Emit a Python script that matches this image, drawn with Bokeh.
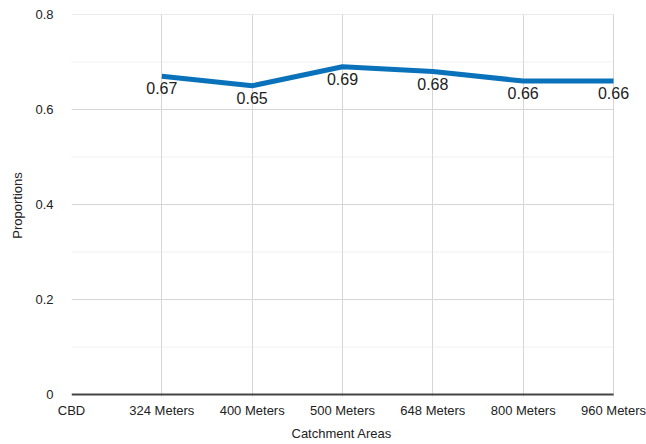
import numpy as np
from bokeh.plotting import figure
from bokeh.models import ColumnDataSource, FixedTicker, Range1d, CustomJSTickFormatter, Title
from bokeh.core.properties import value
from bokeh.embed import file_html
from bokeh.resources import INLINE

# Catchment areas and the proportion recorded for each (no value for the CBD)
categories = ["CBD", "324 Meters", "400 Meters", "500 Meters", "648 Meters", "800 Meters", "960 Meters"]
proportions = [np.nan, 0.67, 0.65, 0.69, 0.68, 0.66, 0.66]
y_ticks = [0, 0.2, 0.4, 0.6, 0.8]
y_minor = [0.1, 0.3, 0.5, 0.7]

FONT = "Liberation Sans"
GRID = "#d6d6d6"

xs = list(range(len(categories)))
x_first, x_last = xs[0], xs[-1]
src = ColumnDataSource(dict(x=xs, y=proportions))
has_val = [i for i, v in enumerate(proportions) if not np.isnan(v)]
lbl = ColumnDataSource(dict(
    x=[xs[i] for i in has_val],
    y=[proportions[i] for i in has_val],
    t=[f"{proportions[i]:.2f}" for i in has_val],
))

# The frame runs a little past the last category so the last value label has room,
# and a hair below zero so the base line is not clipped; rules and the base line
# are drawn only across the category span.
p = figure(width=646, height=444, output_backend="svg", toolbar_location=None,
           x_range=Range1d(x_first, x_last + 0.365), y_range=Range1d(-0.004, 0.8),
           min_border_left=71, min_border_right=0, min_border_top=14, min_border_bottom=20)

# horizontal rules: solid at major ticks, dotted at minor ticks
p.segment(x0=x_first, x1=x_last, y0="y", y1="y", source=ColumnDataSource(dict(y=y_ticks[1:])),
          line_color=GRID, line_width=1)
p.segment(x0=x_first, x1=x_last, y0="y", y1="y", source=ColumnDataSource(dict(y=y_minor)),
          line_color="#e2e2e2", line_width=1, line_dash="1 1")
# base line at zero
p.segment(x0=x_first, x1=x_last, y0=y_ticks[0], y1=y_ticks[0], line_color="#444444", line_width=2)

p.line("x", "y", source=src, line_width=5, line_color="#0a72bb")
p.text("x", "y", text="t", source=lbl, text_align="center", text_baseline="top",
       y_offset=6, text_font=value(FONT), text_font_size="16px", text_color="#222222")

# x axis: one tick per catchment area
p.xaxis.ticker = FixedTicker(ticks=xs)
p.xaxis.major_label_overrides = {i: c for i, c in enumerate(categories)}
p.xaxis.axis_line_color = None
p.xaxis.major_label_standoff = 6

# x axis title, placed under the middle of the category span
p.add_layout(Title(text="Catchment Areas", align="left", offset=220,
                   text_font=FONT, text_font_size="13px", text_font_style="normal",
                   text_color="#222222", standoff=7), "below")

# y axis
p.yaxis.ticker = FixedTicker(ticks=y_ticks, minor_ticks=y_minor)
p.yaxis.formatter = CustomJSTickFormatter(code="return tick == 0 ? '0' : tick.toFixed(1);")
p.yaxis.axis_label = "Proportions"
p.yaxis.axis_line_color = None
p.yaxis.major_label_standoff = 18
p.yaxis.axis_label_standoff = 7

for ax in (p.xaxis, p.yaxis):
    ax.major_tick_line_color = None
    ax.minor_tick_line_color = None
    ax.major_tick_out = 0
    ax.major_tick_in = 0
    ax.minor_tick_out = 0
    ax.minor_tick_in = 0
    ax.major_label_text_font = FONT
    ax.major_label_text_font_size = "13px"
    ax.major_label_text_color = "#222222"
    ax.axis_label_text_font = FONT
    ax.axis_label_text_font_size = "13px"
    ax.axis_label_text_font_style = "normal"
    ax.axis_label_text_color = "#222222"

p.xgrid.ticker = FixedTicker(ticks=xs)
p.xgrid.grid_line_color = GRID
p.ygrid.grid_line_color = None
p.outline_line_color = None
p.background_fill_color = "white"
p.border_fill_color = "white"

open("out.html", "w").write(file_html(p, INLINE))
